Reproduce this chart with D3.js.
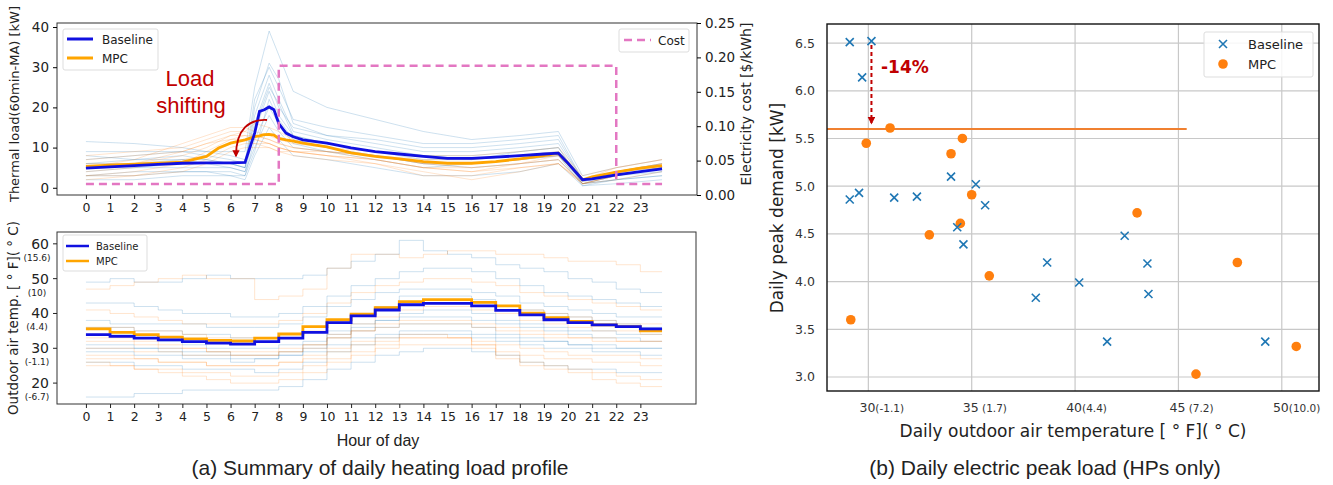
<!DOCTYPE html>
<html>
<head>
<meta charset="utf-8">
<script src="https://cdn.jsdelivr.net/npm/d3@7"></script>
<style>
  body { margin: 0; background: #fff; }
  text { font-family: "DejaVu Sans", sans-serif; fill: #222; }
</style>
</head>
<body>
<div id="main"></div>
<script>
/// DATA ///
// (a) top: thermal load, 60-min moving average [kW]
const loadHours = [0, 1, 2, 3, 4, 5, 5.5, 6, 6.6, 7, 7.2, 7.4, 7.6, 7.8, 8, 8.3, 8.6, 9, 10, 11, 12, 13, 14, 15, 16, 17, 18, 19, 19.6, 20, 20.6, 21, 22, 23, 23.9];
const baselineLoad = [4.9, 5.2, 5.5, 5.8, 6.1, 6.2, 6.2, 6.2, 6.3, 13.6, 19.0, 19.4, 20.1, 19.4, 16.0, 13.6, 12.7, 11.9, 11.1, 9.9, 9.0, 8.4, 7.8, 7.3, 7.3, 7.6, 8.0, 8.4, 8.6, 6.1, 2.0, 2.2, 3.2, 4.0, 4.7];
const mpcLoad = [5.3, 5.6, 5.9, 6.1, 6.4, 7.8, 9.9, 11.1, 11.9, 12.7, 12.9, 13.2, 13.3, 13.1, 12.3, 11.9, 11.6, 11.1, 10.2, 8.7, 7.8, 7.2, 6.5, 6.1, 6.1, 6.5, 7.2, 8.0, 8.6, 6.1, 2.0, 2.7, 3.9, 4.9, 5.5];

// individual days (thin lines)
const dayHours = [0, 2, 4, 5, 6, 6.6, 7, 7.6, 8, 8.6, 10, 12, 14, 16, 18, 19.6, 20.6, 22, 23.9];
const baselineDays = [
  [11.5, 11, 10, 9, 9, 9, 25, 39, 33, 24, 20, 17, 14, 12, 13, 14, 3, 5, 7],
  [8, 7, 8, 7, 6, 5, 20, 31, 27, 16, 13, 11, 9, 9, 10, 11, 2, 4, 6],
  [6, 6, 7, 7, 6, 5, 18, 28, 22, 14, 12, 10, 8, 8, 9, 10, 1, 3, 5],
  [4, 5, 5, 5, 5, 4, 14, 24, 18, 13, 11, 9, 7, 7, 8, 9, 1, 3, 4],
  [3, 3, 4, 4, 4, 3, 12, 20, 16, 11, 9, 7, 5, 6, 7, 8, 0.5, 2, 3],
  [2, 2, 3, 3, 3, 2, 8, 15, 12, 8, 7, 5, 3, 3, 4, 6, 0.5, 1, 2],
  [7, 8, 9, 9, 8, 7, 16, 26, 20, 15, 13, 12, 10, 10, 11, 12, 2, 4, 5],
  [5, 5, 6, 6, 5, 4, 10, 18, 14, 10, 9, 8, 6, 5, 6, 7, 1, 2, 4],
  [9, 9, 9, 8, 7, 6, 22, 30, 25, 17, 15, 13, 11, 11, 12, 13, 2, 4, 6],
  [3, 4, 4, 4, 3, 3, 9, 22, 17, 12, 10, 8, 6, 6, 7, 8, 1, 2, 3],
  [6, 7, 7, 6, 6, 5, 15, 25, 21, 13, 11, 9, 8, 7, 9, 10, 1.5, 3, 5]
];
const mpcDays = [
  [5, 7, 11, 13, 15, 15, 14, 13, 12, 11, 10, 8, 6, 6, 7, 8, 2, 4, 6],
  [3, 4, 6, 9, 12, 13, 13, 12, 11, 10, 9, 7, 5, 5, 6, 7, 1, 3, 5],
  [8, 9, 10, 12, 14, 14, 13, 12, 11, 10, 9, 8, 7, 7, 8, 9, 2, 5, 7],
  [2, 3, 4, 6, 9, 10, 10, 10, 9, 8, 7, 6, 3, 3, 5, 6, 1, 2, 4],
  [6, 6, 8, 10, 13, 14, 16, 15, 14, 12, 10, 9, 8, 8, 9, 10, 3, 5, 7],
  [4, 5, 7, 8, 11, 12, 12, 11, 10, 9, 8, 6, 4, 2, 4, 6, 1, 3, 5],
  [7, 8, 9, 11, 13, 13, 12, 11, 10, 9, 9, 8, 6, 5, 6, 8, 2, 4, 6],
  [3, 3, 5, 7, 10, 11, 11, 11, 10, 9, 8, 7, 5, 4, 6, 7, 1, 3, 5],
  [5, 6, 9, 11, 12, 12, 11, 10, 9, 9, 8, 7, 5, 4, 5, 6, 1.5, 4, 5]
];

// electricity cost [$/kWh]
const costHours = [0, 8, 8, 22, 22, 23.9];
const costValues = [0.016, 0.016, 0.188, 0.188, 0.016, 0.016];

// (a) bottom: outdoor air temperature, hourly steps [F]
const hours = d3.range(0, 24);
const baselineTemp = [33.9, 33.4, 32.9, 32.4, 31.9, 31.5, 31.2, 31.9, 32.9, 34.6, 37.4, 39.3, 41.0, 42.5, 42.9, 42.9, 42.2, 40.9, 39.6, 38.2, 37.4, 36.7, 36.2, 35.6];
const mpcTemp = [35.6, 34.6, 33.9, 33.2, 32.7, 32.3, 32.1, 32.9, 34.1, 36.2, 38.2, 39.8, 41.7, 43.4, 44.0, 44.0, 43.2, 42.2, 40.1, 38.8, 37.7, 36.7, 36.2, 35.0];
const baselineTempDays = [
  [49, 50, 49, 49, 50, 51, 50, 50, 50, 51, 53, 55, 57, 61, 58, 57, 56, 54, 53, 52, 50, 49, 47, 46],
  [43, 43, 42, 41, 40, 40, 39, 39, 40, 42, 45, 48, 50, 52, 53, 53, 52, 50, 48, 46, 45, 44, 43, 42],
  [38, 37, 37, 37, 37, 36, 36, 36, 37, 39, 42, 44, 46, 47, 47, 47, 46, 45, 43, 42, 41, 40, 39, 39],
  [31, 31, 30, 30, 29, 29, 28, 28, 29, 31, 34, 36, 38, 39, 39, 39, 38, 37, 36, 35, 34, 33, 33, 32],
  [26, 26, 25, 25, 24, 24, 24, 23, 24, 26, 29, 31, 33, 34, 34, 34, 33, 32, 31, 30, 30, 29, 29, 28],
  [16, 16, 17, 17, 18, 18, 18, 18, 19, 21, 24, 26, 28, 29, 30, 30, 29, 28, 26, 25, 24, 24, 23, 23],
  [34, 34, 33, 32, 31, 30, 30, 30, 31, 32, 35, 37, 38, 40, 41, 41, 40, 38, 37, 36, 35, 35, 34, 34],
  [29, 29, 28, 28, 27, 27, 26, 27, 28, 30, 33, 35, 36, 37, 37, 37, 36, 34, 33, 32, 31, 31, 30, 30],
  [30, 30, 30, 29, 28, 28, 27, 27, 28, 29, 31, 33, 34, 35, 35, 35, 34, 33, 32, 32, 31, 30, 30, 30],
  [36, 36, 35, 35, 34, 34, 33, 33, 34, 36, 38, 40, 42, 45, 45, 45, 44, 42, 41, 40, 39, 38, 37, 36]
];
const mpcTempDays = [
  [47, 48, 49, 50, 51, 50, 50, 44, 45, 47, 53, 57, 57, 56, 57, 58, 58, 57, 57, 56, 55, 55, 54, 52],
  [41, 40, 39, 38, 37, 37, 37, 37, 38, 40, 43, 46, 48, 49, 50, 50, 49, 48, 46, 45, 44, 43, 42, 41],
  [36, 36, 35, 35, 34, 33, 33, 33, 34, 35, 38, 40, 42, 43, 44, 44, 43, 42, 41, 40, 39, 38, 37, 37],
  [30, 30, 29, 29, 28, 28, 28, 28, 29, 30, 33, 35, 37, 38, 38, 38, 37, 36, 35, 34, 33, 33, 32, 32],
  [26, 25, 24, 23, 22, 21, 20, 20, 21, 23, 26, 28, 30, 31, 31, 31, 30, 28, 26, 25, 24, 23, 22, 21],
  [25, 25, 24, 24, 23, 23, 22, 22, 23, 25, 27, 29, 31, 33, 33, 33, 31, 29, 28, 27, 27, 26, 26, 25],
  [33, 33, 32, 31, 30, 29, 28, 28, 29, 31, 34, 37, 39, 41, 42, 42, 41, 40, 38, 37, 36, 35, 35, 34],
  [28, 28, 27, 26, 26, 25, 25, 25, 26, 28, 30, 32, 33, 34, 34, 33, 31, 27, 25, 24, 23, 21, 20, 19],
  [32, 32, 31, 30, 30, 29, 29, 29, 30, 31, 33, 35, 36, 37, 37, 37, 36, 35, 34, 33, 33, 32, 32, 32],
  [27, 27, 27, 26, 26, 25, 25, 25, 26, 27, 29, 31, 32, 33, 33, 33, 32, 31, 30, 29, 28, 28, 28, 27]
];
const tempTicks = [20, 30, 40, 50, 60];
const tempTicksC = ['(-6.7)', '(-1.1)', '(4.4)', '(10)', '(15.6)'];

// (b) daily peak demand vs outdoor temperature
const baselineOat = [29.1, 30.15, 29.7, 29.1, 29.55, 31.25, 32.35, 34.0, 35.2, 35.65, 34.3, 34.6, 38.1, 38.65, 40.2, 41.55, 42.4, 43.5, 43.55, 49.2];
const baselinePeak = [6.51, 6.52, 6.14, 4.86, 4.93, 4.88, 4.89, 5.10, 5.02, 4.80, 4.57, 4.39, 3.83, 4.20, 3.99, 3.37, 4.48, 4.19, 3.87, 3.37];
const mpcOat = [29.15, 29.9, 31.05, 32.95, 34.0, 34.55, 35.0, 34.45, 35.85, 43.0, 47.85, 45.85, 50.7];
const mpcPeak = [3.60, 5.45, 5.61, 4.49, 5.34, 5.50, 4.91, 4.61, 4.06, 4.72, 4.20, 3.03, 3.32];
const mpcPeakMax = 5.6;
const mpcPeakLineEnd = 45.4;
const oatTicks = [30, 35, 40, 45, 50];
const oatTicksC = ['(-1.1)', ' (1.7)', '(4.4)', ' (7.2)', '(10.0)'];
const peakTicks = [3.0, 3.5, 4.0, 4.5, 5.0, 5.5, 6.0, 6.5];

/// colours ///
const cBase = '#1010e0', cMpc = '#ffa500';
const cBaseThin = '#1f77b4', cMpcThin = '#ff7f0e';
const cCost = '#e377c2', cRed = '#c00000';
const sansFont = '"Liberation Sans", Arial, sans-serif';

let svg = d3.select('#main')
    .append('svg')
    .attr('width', 1333)
    .attr('height', 485);

let defs = svg.append('defs');
defs.append('marker')
    .attr('id', 'redhead')
    .attr('viewBox', '0 0 10 10')
    .attr('refX', 8).attr('refY', 5)
    .attr('markerWidth', 4).attr('markerHeight', 4)
    .attr('orient', 'auto')
    .append('path').attr('d', 'M0,0 L10,5 L0,10 z').attr('fill', cRed);

// shared hour axis for panel (a) //
let xHour = d3.scaleLinear().domain([-1.2, 25.35]).range([57, 697]);

let hourAxis = (g, y) => {
    let ax = g.append('g')
        .attr('transform', 'translate(0,' + y + ')')
        .call(d3.axisBottom(xHour).tickValues(hours).tickSize(4).tickPadding(4).tickSizeOuter(0));
    ax.select('.domain').remove();
    ax.selectAll('line').attr('stroke', '#222');
    ax.selectAll('text').style('font-size', '12.5px').attr('font-family', 'DejaVu Sans');
    return ax;
};

/// (a) top panel: thermal load ///
let yLoad = d3.scaleLinear().domain([-1.8, 41]).range([195, 23]);
let yCost = d3.scaleLinear().domain([0, 0.25]).range([195, 23]);

let loadPanel = svg.append('g');
let loadLine = d3.line().x(d => xHour(d[0])).y(d => yLoad(d[1]));

baselineDays.forEach(day => {
    loadPanel.append('path').datum(dayHours.map((h, i) => [h, day[i]]))
        .attr('d', loadLine).attr('fill', 'none')
        .attr('stroke', cBaseThin).attr('stroke-opacity', 0.22).attr('stroke-width', 1);
});
mpcDays.forEach(day => {
    loadPanel.append('path').datum(dayHours.map((h, i) => [h, day[i]]))
        .attr('d', loadLine).attr('fill', 'none')
        .attr('stroke', cMpcThin).attr('stroke-opacity', 0.2).attr('stroke-width', 1);
});

loadPanel.append('path').datum(loadHours.map((h, i) => [h, mpcLoad[i]]))
    .attr('d', loadLine).attr('fill', 'none').attr('stroke', cMpc).attr('stroke-width', 2.8);
loadPanel.append('path').datum(loadHours.map((h, i) => [h, baselineLoad[i]]))
    .attr('d', loadLine).attr('fill', 'none').attr('stroke', cBase).attr('stroke-width', 2.8);

// cost on twin axis
loadPanel.append('path')
    .datum(costHours.map((h, i) => [h, costValues[i]]))
    .attr('d', d3.line().x(d => xHour(d[0])).y(d => yCost(d[1])))
    .attr('fill', 'none').attr('stroke', cCost).attr('stroke-width', 2.5)
    .attr('stroke-dasharray', '8,5');

loadPanel.append('rect').attr('x', 57).attr('y', 23).attr('width', 640).attr('height', 172)
    .attr('fill', 'none').attr('stroke', '#333').attr('stroke-width', 1);

hourAxis(loadPanel, 195);

let yl = loadPanel.append('g').attr('transform', 'translate(57,0)')
    .call(d3.axisLeft(yLoad).tickValues([0, 10, 20, 30, 40]).tickSize(4).tickPadding(4));
yl.select('.domain').remove();
yl.selectAll('text').style('font-size', '13.5px').attr('font-family', 'DejaVu Sans');

let yr = loadPanel.append('g').attr('transform', 'translate(697,0)')
    .call(d3.axisRight(yCost).tickValues([0, 0.05, 0.1, 0.15, 0.2, 0.25]).tickFormat(d3.format('.2f')).tickSize(4).tickPadding(4));
yr.select('.domain').remove();
yr.selectAll('text').style('font-size', '13.5px').attr('font-family', 'DejaVu Sans');

loadPanel.append('text').attr('transform', 'translate(19,104) rotate(-90)')
    .attr('text-anchor', 'middle').style('font-size', '13px')
    .text('Thermal load(60min-MA) [kW]');
loadPanel.append('text').attr('transform', 'translate(751,104) rotate(-90)')
    .attr('text-anchor', 'middle').style('font-size', '14px')
    .text('Electricity cost [$/kWh]');

// legends
let lg = loadPanel.append('g');
lg.append('rect').attr('x', 63).attr('y', 29).attr('width', 95).attr('height', 41).attr('rx', 2)
    .attr('fill', '#fff').attr('fill-opacity', 0.85).attr('stroke', '#ddd');
lg.append('line').attr('x1', 67).attr('x2', 93).attr('y1', 39).attr('y2', 39).attr('stroke', cBase).attr('stroke-width', 3);
lg.append('line').attr('x1', 67).attr('x2', 93).attr('y1', 58).attr('y2', 58).attr('stroke', cMpc).attr('stroke-width', 3);
lg.append('text').attr('x', 102).attr('y', 44).style('font-size', '12px').text('Baseline');
lg.append('text').attr('x', 102).attr('y', 63).style('font-size', '12px').text('MPC');

lg.append('rect').attr('x', 619).attr('y', 29).attr('width', 70).attr('height', 23).attr('rx', 2)
    .attr('fill', '#fff').attr('stroke', '#ddd');
lg.append('line').attr('x1', 624).attr('x2', 651).attr('y1', 40).attr('y2', 40)
    .attr('stroke', cCost).attr('stroke-width', 2.5).attr('stroke-dasharray', '8,5');
lg.append('text').attr('x', 658).attr('y', 45).style('font-size', '12px').text('Cost');

// load shifting annotation
loadPanel.append('text').attr('x', 190).attr('y', 86).attr('text-anchor', 'middle')
    .style('font-size', '22px').style('fill', cRed).style('font-family', sansFont).text('Load');
loadPanel.append('text').attr('x', 191).attr('y', 113).attr('text-anchor', 'middle')
    .style('font-size', '22px').style('fill', cRed).style('font-family', sansFont).text('shifting');
loadPanel.append('path').attr('d', 'M267,120 C250,119 236,128 236,156')
    .attr('fill', 'none').attr('stroke', cRed).attr('stroke-width', 1.8)
    .attr('marker-end', 'url(#redhead)');

/// (a) bottom panel: outdoor air temperature ///
let yTemp = d3.scaleLinear().domain([14, 63.4]).range([404, 232]);
let stepLine = d3.line().curve(d3.curveStepAfter).x(d => xHour(d[0])).y(d => yTemp(d[1]));
let stepData = vals => hours.map((h, i) => [h, vals[i]]).concat([[23.9, vals[23]]]);

let tempPanel = svg.append('g');
baselineTempDays.forEach(day => {
    tempPanel.append('path').datum(stepData(day)).attr('d', stepLine).attr('fill', 'none')
        .attr('stroke', cBaseThin).attr('stroke-opacity', 0.22).attr('stroke-width', 1);
});
mpcTempDays.forEach(day => {
    tempPanel.append('path').datum(stepData(day)).attr('d', stepLine).attr('fill', 'none')
        .attr('stroke', cMpcThin).attr('stroke-opacity', 0.2).attr('stroke-width', 1);
});
tempPanel.append('path').datum(stepData(mpcTemp)).attr('d', stepLine).attr('fill', 'none')
    .attr('stroke', cMpc).attr('stroke-width', 2.8);
tempPanel.append('path').datum(stepData(baselineTemp)).attr('d', stepLine).attr('fill', 'none')
    .attr('stroke', cBase).attr('stroke-width', 2.8);

tempPanel.append('rect').attr('x', 57).attr('y', 232).attr('width', 639).attr('height', 172)
    .attr('fill', 'none').attr('stroke', '#333').attr('stroke-width', 1);

hourAxis(tempPanel, 404);

tempTicks.forEach((t, i) => {
    tempPanel.append('line').attr('x1', 53).attr('x2', 57).attr('y1', yTemp(t)).attr('y2', yTemp(t)).attr('stroke', '#222');
    tempPanel.append('text').attr('x', 49).attr('y', yTemp(t) + 5).attr('text-anchor', 'end')
        .style('font-size', '14px').text(t);
    tempPanel.append('text').attr('x', 37).attr('y', yTemp(t) + 17).attr('text-anchor', 'middle')
        .style('font-size', '9px').text(tempTicksC[i]);
});

tempPanel.append('text').attr('transform', 'translate(18,318) rotate(-90)')
    .attr('text-anchor', 'middle').style('font-size', '13.5px')
    .text('Outdoor air temp. [ \u00b0 F]( \u00b0 C)');
tempPanel.append('text').attr('x', 378).attr('y', 446).attr('text-anchor', 'middle')
    .style('font-family', sansFont).style('font-size', '16px').text('Hour of day');

let lb = tempPanel.append('g');
lb.append('rect').attr('x', 63).attr('y', 235).attr('width', 84).attr('height', 36).attr('rx', 2)
    .attr('fill', '#fff').attr('fill-opacity', 0.85).attr('stroke', '#ddd');
lb.append('line').attr('x1', 66).attr('x2', 89).attr('y1', 246).attr('y2', 246).attr('stroke', cBase).attr('stroke-width', 2.5);
lb.append('line').attr('x1', 66).attr('x2', 89).attr('y1', 261).attr('y2', 261).attr('stroke', cMpc).attr('stroke-width', 2.5);
lb.append('text').attr('x', 96).attr('y', 250).style('font-size', '10px').text('Baseline');
lb.append('text').attr('x', 96).attr('y', 265).style('font-size', '10px').text('MPC');

svg.append('text').attr('x', 380).attr('y', 475).attr('text-anchor', 'middle')
    .style('font-family', sansFont).style('font-size', '21px')
    .text('(a) Summary of daily heating load profile');

/// (b) scatter: daily peak demand ///
let xOat = d3.scaleLinear().domain([28.0, 51.8]).range([827, 1319]);
let yPeak = d3.scaleLinear().domain([2.853, 6.70]).range([391, 24]);
let sc = svg.append('g');

// grid
sc.selectAll('.vgrid').data(oatTicks).enter().append('line')
    .attr('x1', d => xOat(d)).attr('x2', d => xOat(d)).attr('y1', 24).attr('y2', 391)
    .attr('stroke', '#c8c8c8').attr('stroke-width', 1.2);
sc.selectAll('.hgrid').data(peakTicks).enter().append('line')
    .attr('x1', 827).attr('x2', 1319).attr('y1', d => yPeak(d)).attr('y2', d => yPeak(d))
    .attr('stroke', '#c8c8c8').attr('stroke-width', 1.2);

// MPC peak line
sc.append('line').attr('x1', xOat.range()[0]).attr('x2', xOat(mpcPeakLineEnd))
    .attr('y1', yPeak(mpcPeakMax)).attr('y2', yPeak(mpcPeakMax))
    .attr('stroke', '#f08030').attr('stroke-width', 2);

// points
sc.selectAll('.mpc').data(mpcOat).enter().append('circle')
    .attr('cx', d => xOat(d)).attr('cy', (d, i) => yPeak(mpcPeak[i]))
    .attr('r', 4.8).attr('fill', cMpcThin);
sc.selectAll('.base').data(baselineOat).enter().append('path')
    .attr('transform', (d, i) => 'translate(' + xOat(d) + ',' + yPeak(baselinePeak[i]) + ')')
    .attr('d', 'M-4,-4L4,4M-4,4L4,-4')
    .attr('stroke', cBaseThin).attr('stroke-width', 1.6);

// -14% arrow
sc.append('line').attr('x1', xOat(30.15)).attr('x2', xOat(30.15))
    .attr('y1', yPeak(6.48)).attr('y2', yPeak(mpcPeakMax) - 6)
    .attr('stroke', cRed).attr('stroke-width', 2).attr('stroke-dasharray', '4,3')
    .attr('marker-end', 'url(#redhead)');
sc.append('text').attr('x', 881).attr('y', 73)
    .style('font-size', '17px').style('font-weight', 'bold').style('fill', cRed).text('-14%');

sc.append('rect').attr('x', 827).attr('y', 24).attr('width', 492).attr('height', 367)
    .attr('fill', 'none').attr('stroke', '#111').attr('stroke-width', 1.4);

// ticks
peakTicks.forEach(t => {
    sc.append('text').attr('x', 815).attr('y', yPeak(t) + 4.5).attr('text-anchor', 'end')
        .style('font-size', '12.5px').style('fill', '#333').text(d3.format('.1f')(t));
});
oatTicks.forEach((t, i) => {
    sc.append('text').attr('x', xOat(t) + 7).attr('y', 412).attr('text-anchor', 'end')
        .style('font-size', '12.5px').style('fill', '#333').text(t);
    sc.append('text').attr('x', xOat(t) + 7).attr('y', 412).attr('text-anchor', 'start')
        .style('font-size', '10.5px').style('fill', '#333').style('white-space', 'pre').text(oatTicksC[i]);
});

sc.append('text').attr('transform', 'translate(783,208) rotate(-90)')
    .attr('text-anchor', 'middle').style('font-size', '17px')
    .text('Daily peak demand [kW]');
sc.append('text').attr('x', 1073).attr('y', 437).attr('text-anchor', 'middle')
    .style('font-size', '17px')
    .text('Daily outdoor air temperature [ \u00b0 F]( \u00b0 C)');

let ls = sc.append('g');
ls.append('rect').attr('x', 1204).attr('y', 32).attr('width', 109).attr('height', 45).attr('rx', 2)
    .attr('fill', '#fff').attr('fill-opacity', 0.85).attr('stroke', '#ddd');
ls.append('path').attr('transform', 'translate(1223,44)').attr('d', 'M-4,-4L4,4M-4,4L4,-4')
    .attr('stroke', cBaseThin).attr('stroke-width', 1.6);
ls.append('circle').attr('cx', 1223).attr('cy', 64).attr('r', 4.8).attr('fill', cMpcThin);
ls.append('text').attr('x', 1248).attr('y', 49).style('font-size', '13px').text('Baseline');
ls.append('text').attr('x', 1248).attr('y', 69).style('font-size', '13px').text('MPC');

svg.append('text').attr('x', 1045).attr('y', 475).attr('text-anchor', 'middle')
    .style('font-family', sansFont).style('font-size', '21px')
    .text('(b) Daily electric peak load (HPs only)');
</script>
</body>
</html>
